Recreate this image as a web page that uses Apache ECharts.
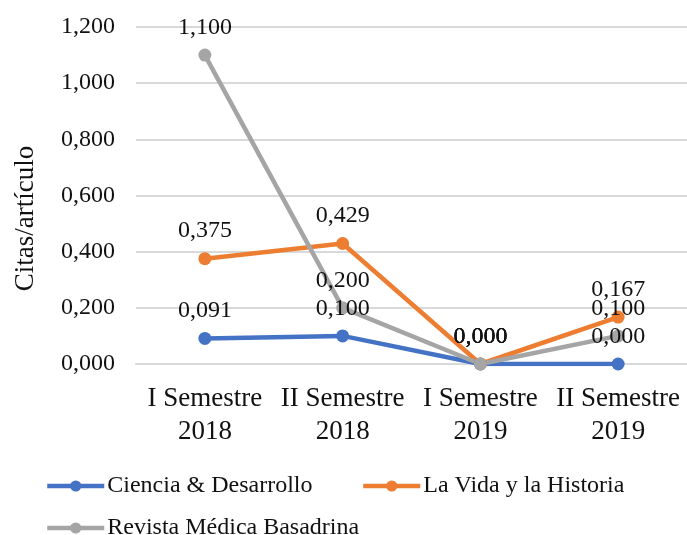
<!DOCTYPE html>
<html>
<head>
<meta charset="utf-8">
<script src="https://cdn.jsdelivr.net/npm/echarts@6/dist/echarts.min.js"></script>
<style>
html, body { margin: 0; padding: 0; background: #fff; }
#chart_1 { width: 687px; height: 535px; }
</style>
</head>
<body>
<div id="chart_1"></div>
<script>
var dom = document.getElementById("chart_1");
var myChart = echarts.init(dom);

// datos
var periodos = ['I Semestre\n2018', 'II Semestre\n2018', 'I Semestre\n2019', 'II Semestre\n2019'];
var cienciaDesarrollo = [0.091, 0.100, 0.000, 0.000];
var vidaHistoria = [0.375, 0.429, 0.000, 0.167];
var revistaBasadrina = [1.100, 0.200, 0.000, 0.100];
var nombres = ['Ciencia & Desarrollo', 'La Vida y la Historia', 'Revista Médica Basadrina'];
var colores = ['#4472C4', '#ED7D31', '#A5A5A5'];

var fuente = 'Liberation Serif, Times New Roman, serif';

function coma(v) {
    return Number(v).toFixed(3).replace('.', ',');
}

function serie(nombre, valores, color) {
    return {
        name: nombre,
        type: 'line',
        data: valores,
        symbol: 'circle',
        symbolSize: 13,
        lineStyle: { width: 4.5, color: color },
        itemStyle: { color: color },
        label: {
            show: true,
            position: 'top',
            distance: 9,
            fontFamily: fuente,
            fontSize: 24,
            color: '#111',
            formatter: function (p) { return coma(p.value); }
        },
        emphasis: { disabled: true }
    };
}

function leyenda(nombre, left, top) {
    return {
        data: [nombre],
        left: left,
        top: top,
        itemWidth: 57,
        itemHeight: 14,
        itemGap: 0,
        lineStyle: { width: 4.5 },
        textStyle: { fontFamily: fuente, fontSize: 24, color: '#111', padding: [0, 0, 0, -2] },
        selectedMode: false
    };
}

var option = {
    animation: false,
    textStyle: { fontFamily: fuente },
    grid: { left: 136, top: 27, width: 560, height: 337 },
    legend: [
        leyenda(nombres[0], 40, 469),
        leyenda(nombres[1], 356, 469),
        leyenda(nombres[2], 40, 511)
    ],
    xAxis: {
        type: 'category',
        data: periodos,
        boundaryGap: true,
        axisLine: { lineStyle: { color: '#d9d9d9', width: 2 } },
        axisTick: { show: false },
        axisLabel: {
            interval: 0,
            margin: 18,
            fontFamily: fuente,
            fontSize: 27,
            lineHeight: 33,
            color: '#111'
        }
    },
    yAxis: {
        type: 'value',
        min: 0,
        max: 1.2,
        interval: 0.2,
        name: 'Citas/artículo',
        nameLocation: 'middle',
        nameGap: 97,
        nameTextStyle: { fontFamily: fuente, fontSize: 27, color: '#111', padding: [0, 0, 0, -46] },
        axisLine: { show: false },
        axisTick: { show: false },
        splitLine: { lineStyle: { color: '#d9d9d9', width: 2 } },
        axisLabel: {
            margin: 21,
            fontFamily: fuente,
            fontSize: 24,
            color: '#111',
            formatter: function (v) { return coma(v); }
        }
    },
    series: [
        serie(nombres[0], cienciaDesarrollo, colores[0]),
        serie(nombres[1], vidaHistoria, colores[1]),
        serie(nombres[2], revistaBasadrina, colores[2])
    ]
};

myChart.setOption(option);
</script>
</body>
</html>
